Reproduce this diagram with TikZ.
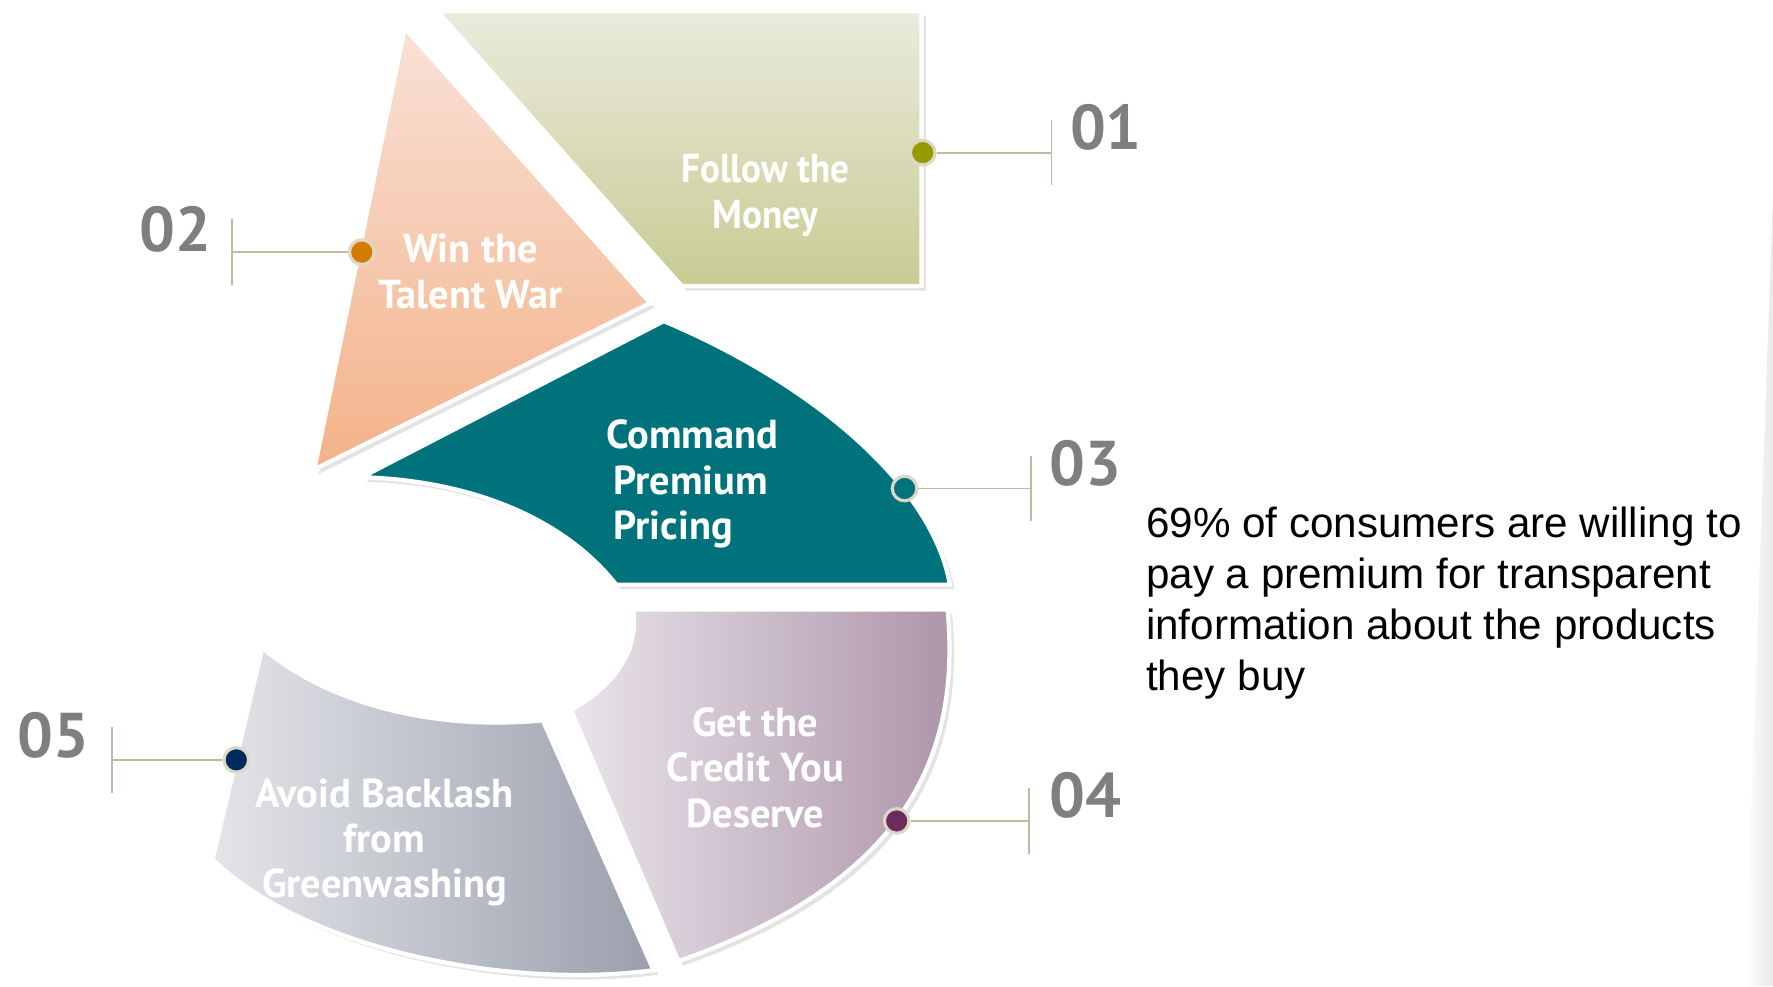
\documentclass[tikz,border=0pt]{standalone}
\usepackage{fontspec}
\setmainfont{Liberation Sans}
\newfontfamily\segfont{PT Sans}
\usepackage{xcolor}
\usepackage{tikz}
\usetikzlibrary{shadows, positioning}

\definecolor{moneytop}{HTML}{EAEBDD}
\definecolor{moneybot}{HTML}{C9CB93}
\definecolor{talenttop}{HTML}{F9E1D7}
\definecolor{talentbot}{HTML}{F3B288}
\definecolor{pricing}{HTML}{00727B}
\definecolor{creditleft}{HTML}{E9E4EA}
\definecolor{creditright}{HTML}{AC93A8}
\definecolor{backleft}{HTML}{E4E5E9}
\definecolor{backright}{HTML}{9A9FAD}
\definecolor{dotmoney}{HTML}{979A00}
\definecolor{dottalent}{HTML}{D47C00}
\definecolor{dotpricing}{HTML}{00737C}
\definecolor{dotcredit}{HTML}{6A2C5C}
\definecolor{dotback}{HTML}{002B5C}
\definecolor{pinring}{HTML}{DDD7C6}
\definecolor{leadcol}{HTML}{C2B9A0}
\definecolor{numgray}{HTML}{7F7F7F}

\begin{document}
\begin{tikzpicture}[
    x=0.11307mm, y=-0.11307mm,
    segshape/.style={draw=white, line width=1.2pt, line join=miter,
        drop shadow={opacity=0.22, shadow xshift=1.3pt, shadow yshift=-1.3pt}},
    seglabel/.style={text=white, font=\segfont\bfseries\fontsize{11.5}{12.9}\selectfont, align=center, inner sep=0pt},
    numtext/.style={text=numgray, font=\segfont\bfseries\fontsize{18}{18}\selectfont, inner sep=0pt},
    pindot/.style={circle, draw=pinring, line width=0.9pt, minimum size=7pt, inner sep=0pt},
    leader/.style={draw=leadcol, line width=0.5pt},
]
\useasboundingbox (0,0) rectangle (1568,872);

% page edge
\shade[left color=white, right color=black!9] (1568,170) -- (1543,872) -- (1568,872) -- cycle;

% the five pieces
\path[segshape, top color=moneytop, bottom color=moneybot]
    (387,10) -- (815,10) -- (815,253) -- (603,253) -- cycle;
\path[segshape, top color=talenttop, bottom color=talentbot]
    (358,25) -- (575,268) -- (278,415) -- cycle;
\path[segshape, fill=pricing]
    (587,284) -- (320,422) .. controls (420,425) and (500,460) .. (545,517)
    -- (840,517) .. controls (825,430) and (720,340) .. (587,284) -- cycle;
\path[segshape, left color=creditleft, right color=creditright]
    (560,539) -- (838,539) .. controls (850,670) and (800,780) .. (600,850)
    -- (505,628) .. controls (545,605) and (565,575) .. (560,539) -- cycle;
\path[segshape, left color=backleft, right color=backright]
    (232,573) .. controls (300,630) and (400,645) .. (480,637)
    -- (578,858) .. controls (450,875) and (270,840) .. (188,760) -- cycle;

\node[seglabel, font=\segfont\bfseries\fontsize{11.5}{12.9}\selectfont\addfontfeature{FakeStretch=0.92}] (lm) at (677,173) {Follow the\\Money};
\node[seglabel] (lt) at (416,240) {Win the\\Talent War};
\node[seglabel, align=left, anchor=west] (lp) at (542,428) {\hspace*{-2pt}Command\\Premium\\Pricing};
\node[seglabel] (lc) at (668,679) {Get the\\Credit You\\Deserve};
\node[seglabel] (lb) at (340,745) {Avoid Backlash\\from\\Greenwashing};

% leaders
\coordinate (k1) at (930,135);
\coordinate (k2) at (205,223);
\coordinate (k3) at (912,432);
\coordinate (k4) at (910,726);
\coordinate (k5) at (99,672);

\node[pindot, fill=dotmoney] (d1) at (816,135) {};
\node[pindot, fill=dottalent] (d2) at (320,223) {};
\node[pindot, fill=dotpricing] (d3) at (800,432) {};
\node[pindot, fill=dotcredit] (d4) at (793,726) {};
\node[pindot, fill=dotback] (d5) at (209,672) {};

\foreach \i in {1,...,5} {
    \draw[leader] (d\i) -- (k\i);
    \draw[leader] (k\i) ++(0,-29) -- ++(0,58);
}

\node[numtext] (n1) at (978,113) {01};
\node[numtext] (n2) at (155,203) {02};
\node[numtext] (n3) at (960,410) {03};
\node[numtext] (n4) at (960,703) {04};
\node[numtext] (n5) at (47,650) {05};

\node[anchor=north west, inner sep=0pt, align=left, font=\fontsize{12}{14.5}\selectfont] (fact) at (1013,448)
    {69\% of consumers are willing to\\pay a premium for transparent\\information about the products\\they buy};

\end{tikzpicture}
\end{document}
